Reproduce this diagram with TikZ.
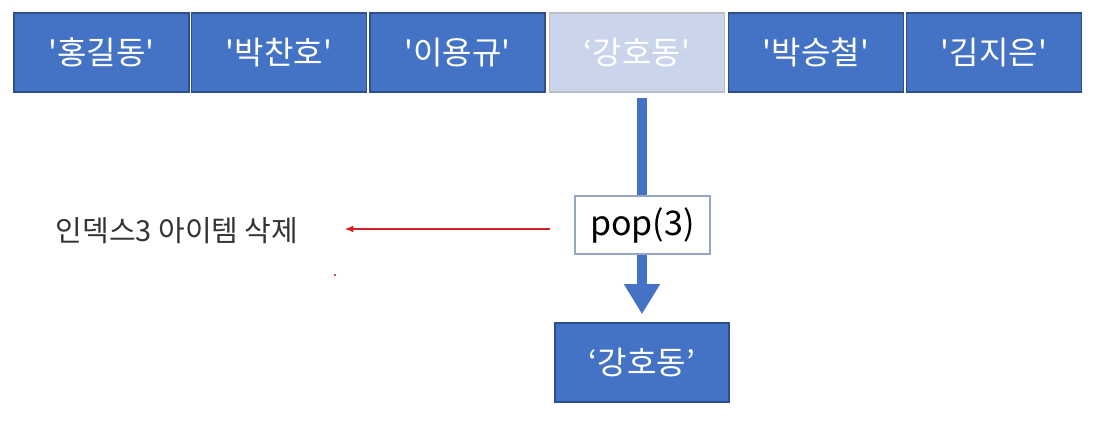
\documentclass[tikz,border=0pt]{standalone}
\usepackage{fontspec}
\setmainfont{Noto Sans CJK KR}[Ligatures=TeXOff]
\usetikzlibrary{arrows.meta,positioning}
\definecolor{itemblue}{HTML}{4472C4}
\definecolor{itemedge}{HTML}{2F4F8A}
\definecolor{fadeblue}{HTML}{CAD5EB}
\definecolor{fadeedge}{HTML}{B8BEC8}
\definecolor{notered}{HTML}{D02020}

\begin{document}
\begin{tikzpicture}[x=1pt, y=-1pt, every node/.style={font=\fontsize{32}{36}\selectfont},
    item/.style={draw=itemedge, line width=1.6pt, fill=itemblue, text=white, minimum width=175pt, minimum height=79pt, inner sep=0pt},
    faded/.style={item, draw=fadeedge, fill=fadeblue},
    popbox/.style={draw=fadeedge!70!itemblue, line width=1.2pt, fill=white, minimum width=135pt, minimum height=58pt, inner sep=0pt, font=\fontsize{34}{38}\selectfont}]

    \useasboundingbox (0,0) rectangle (1093,430);

    \node[item]  (b1) at (101.5,52.5) {'홍길동'};
    \node[item]  (b2) at (279,52.5)   {'박찬호'};
    \node[item]  (b3) at (457.5,52.5) {'이용규'};
    \node[faded] (b4) at (637,52.5)   {‘강호동'};
    \node[item]  (b5) at (816,52.5)   {'박승철'};
    \node[item]  (b6) at (994,52.5)   {'김지은'};

    \node[item, minimum width=174pt] (out) at (642,362.5) {‘강호동’};

    \draw[itemblue, line width=10pt, -{Triangle[width=34pt, length=30pt]}, shorten <=5pt, shorten >=8pt] (b4.south -| out.north) -- (out);

    \node[popbox] (pop) at (642.5,225) {pop(3)};
    \node[font=\fontsize{29}{32}\selectfont, text=black!80, inner sep=0pt] (note) at (177,231) {인덱스3 아이템 삭제};

    \draw[notered, line width=1.5pt, -{Latex[length=9pt, width=7pt]}, shorten <=24pt, shorten >=46pt] (pop.west |- 0,229) -- (note.east |- 0,229);

    \fill[notered!80!black] (335,275) circle (1.2pt);
\end{tikzpicture}
\end{document}
